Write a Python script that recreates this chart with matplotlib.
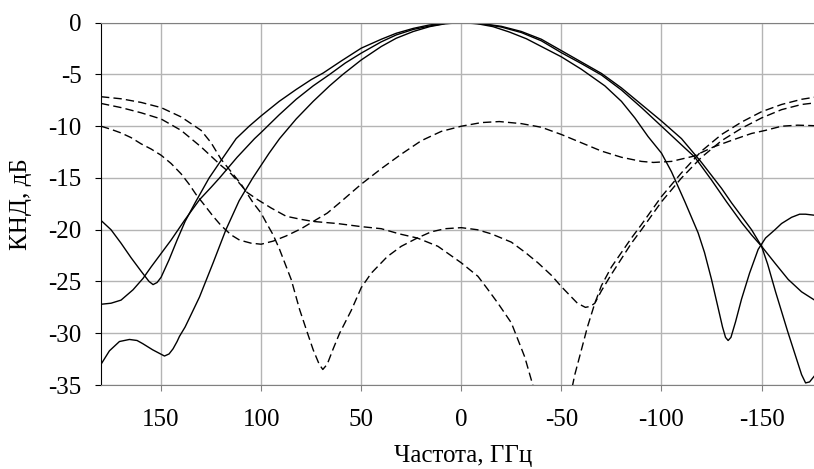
import matplotlib
matplotlib.use("Agg")
import matplotlib.pyplot as plt
import numpy as np

plt.rcParams['font.family'] = ['Liberation Serif', 'DejaVu Serif']
plt.rcParams['axes.unicode_minus'] = False

# сплошные кривые (x - частота, ГГц; y - КНД, дБ)
a_x = [180, 175, 170, 165, 160, 156, 154, 152, 150, 146, 142, 138, 133, 126, 120, 112.5, 106, 100,
       91, 82.5, 75, 69, 60, 50, 40, 32.5, 24, 16, 8, 0,
       -10, -20, -30, -40, -50, -60, -70, -80, -90, -100, -110, -120, -130, -135, -140, -145,
       -150, -153, -157, -160, -163, -167, -170, -172, -174, -176.5]
a_y = [-19.1, -20.0, -21.3, -22.7, -24.0, -25.0, -25.3, -25.1, -24.6, -22.9, -21.0, -19.2, -17.4, -15.0, -13.3, -11.2, -10.0, -9.0,
       -7.6, -6.45, -5.5, -4.86, -3.7, -2.46, -1.6, -1.02, -0.55, -0.22, -0.05, 0.0,
       -0.08, -0.35, -0.85, -1.6, -2.7, -3.8, -4.9, -6.3, -7.9, -9.5, -11.2, -13.5, -16.0, -17.4, -18.7, -20.0,
       -21.6, -23.3, -26.0, -27.9, -29.8, -32.2, -34.0, -34.8, -34.7, -34.1]

b_x = [180, 175, 170, 164, 159, 155, 150, 145, 138.3, 130.8, 125, 120.8, 112, 103.3, 100, 91, 82.5,
       74, 65.8, 58, 50, 40, 32.5, 24, 15.8, 8, 0,
       -10, -20, -30, -40, -50, -60, -70, -80, -90, -100, -110, -116.7, -125, -132.5, -140, -145,
       -150, -157, -163.3, -170, -176.5]
b_y = [-27.2, -27.1, -26.8, -25.8, -24.7, -23.6, -22.3, -21.0, -19.1, -17.1, -15.9, -15.0, -13.0, -11.2, -10.6, -8.9, -7.4,
       -6.1, -5.0, -3.9, -2.94, -1.85, -1.18, -0.65, -0.32, -0.08, 0.0,
       -0.1, -0.42, -0.95, -1.75, -2.9, -3.95, -5.05, -6.5, -8.2, -10.0, -11.8, -13.0, -15.2, -17.3, -19.3, -20.5,
       -21.6, -23.3, -24.8, -26.0, -26.8]

c_x = [180, 175.8, 170.8, 165.8, 162, 159.2, 154.2, 148.3, 146, 144, 142, 140.8, 138, 136, 130.8, 124,
       117.6, 111, 104.2, 96, 90.8, 82.5, 74, 65.8, 59.2, 50, 40, 32.5, 24, 15.8, 8, 0,
       -8, -15.8, -24, -32.5, -40, -50, -60, -71.7, -80, -86.7, -93.3, -100, -105, -111.7, -115, -118.3,
       -121.5, -125, -128, -130.5, -132, -133.3, -134.7, -137, -140, -144, -148.3, -152, -156.7, -160, -165,
       -169, -172, -176.5]
c_y = [-33.0, -31.7, -30.8, -30.6, -30.7, -31.0, -31.6, -32.2, -32.0, -31.5, -30.8, -30.3, -29.4, -28.6, -26.5, -23.2,
       -20.0, -17.2, -15.0, -12.6, -11.2, -9.3, -7.6, -6.1, -5.0, -3.6, -2.3, -1.5, -0.85, -0.38, -0.1, 0.0,
       -0.1, -0.38, -0.9, -1.55, -2.3, -3.3, -4.5, -6.1, -7.6, -9.2, -11.0, -12.6, -14.4, -17.3, -18.8, -20.3,
       -22.2, -24.8, -27.3, -29.4, -30.4, -30.7, -30.4, -28.9, -26.7, -24.2, -21.9, -20.8, -20.0, -19.4, -18.8,
       -18.5, -18.5, -18.6]

# штриховые кривые
d1_x = [180, 170, 160, 150, 140, 130, 125, 120, 115, 110, 104, 100, 97.5, 94, 90.8, 85, 80.8, 77, 74,
        71, 69.2, 67, 64, 60.8, 55, 50, 45, 37, 30, 22, 15, 8, 0,
        -8, -15, -25, -32, -38.3, -45, -50, -55, -58, -62, -64.5, -66.7, -70, -75, -80, -85, -90,
        -100, -110, -120, -130, -140, -150, -160, -170, -176.5]
d1_y = [-7.15, -7.35, -7.7, -8.2, -9.1, -10.4, -11.6, -13.2, -14.4, -15.6, -17.4, -18.4, -19.3, -20.5, -21.9, -24.8, -27.7, -29.9, -31.6,
        -33.0, -33.5, -33.0, -31.5, -30.0, -27.8, -25.6, -24.2, -22.6, -21.6, -20.8, -20.2, -19.9, -19.8,
        -20.0, -20.4, -21.2, -22.2, -23.2, -24.4, -25.5, -26.5, -27.1, -27.5, -27.4, -27.1, -25.9, -24.3, -22.8, -21.3, -20.0,
        -17.3, -15.0, -13.0, -11.4, -10.2, -9.2, -8.4, -7.9, -7.75]

d2_x = [180, 170, 160, 150, 140, 130, 120, 115, 110, 107, 101.7, 95, 87.5, 80, 74, 62, 50, 40, 31, 22,
        11.7, 0, -8.3, -13, -18.3, -25, -31.7, -36, -38,
        -54, -56.7, -60, -63, -66.7, -70, -75, -80, -85, -90, -100, -110, -120, -130, -140, -150,
        -160, -170, -176.5]
d2_y = [-7.8, -8.2, -8.7, -9.3, -10.4, -12.0, -13.8, -14.6, -15.7, -16.4, -17.1, -17.9, -18.7, -19.0, -19.2, -19.4, -19.7, -19.9, -20.4, -20.8,
        -21.6, -23.2, -24.5, -25.7, -27.1, -29.0, -32.3, -35.2, -36.5,
        -36.5, -34.0, -31.6, -29.4, -27.1, -25.4, -23.6, -22.2, -20.8, -19.5, -16.8, -14.5, -12.4, -10.8, -9.6, -8.6,
        -7.9, -7.4, -7.2]

d3_x = [180, 175, 170, 165, 160, 155, 150, 145, 140, 136, 132.5, 128, 124, 120, 115, 110.8, 105, 100,
        94, 87.5, 80, 74, 67, 60.8, 50, 40, 30,
        20, 10, 0, -10, -19, -30, -40, -50, -60, -70, -80, -90, -96, -105, -116, -126, -136, -145,
        -152, -160, -168, -176.5]
d3_y = [-10.0, -10.3, -10.65, -11.1, -11.7, -12.2, -12.8, -13.6, -14.6, -15.6, -16.6, -17.7, -18.7, -19.6, -20.5, -21.0, -21.3, -21.4,
        -21.1, -20.6, -19.9, -19.2, -18.4, -17.4, -15.6, -14.1, -12.7,
        -11.4, -10.5, -10.0, -9.65, -9.55, -9.75, -10.1, -10.8, -11.6, -12.4, -13.0, -13.4, -13.5, -13.4, -12.9, -12.0, -11.3, -10.7,
        -10.4, -10.0, -9.9, -9.95]

fig = plt.figure(figsize=(8.14, 4.69), dpi=100)
ax = fig.add_axes([0.1241, 0.1791, 0.8759, 0.7725])

for xs, ys in [(a_x, a_y), (b_x, b_y), (c_x, c_y)]:
    ax.plot(xs, ys, color='black', lw=1.0)
for xs, ys in [(d1_x, d1_y), (d2_x, d2_y), (d3_x, d3_y)]:
    ax.plot(xs, ys, color='black', lw=1.0, dashes=(6, 3))

ax.set_xlim(180, -176.2)
ax.set_ylim(-35, 0)
ax.set_xticks([150, 100, 50, 0, -50, -100, -150])
ax.set_yticks([0, -5, -10, -15, -20, -25, -30, -35])
ax.grid(True, color='#b4b4b4', lw=1.0)
ax.set_axisbelow(True)

ax.spines['right'].set_visible(False)
ax.spines['top'].set_color('#808080')
ax.spines['bottom'].set_color('#808080')
ax.spines['left'].set_color('black')
ax.tick_params(axis='y', direction='out', length=4, pad=10, labelsize=18, color='black')
ax.tick_params(axis='x', direction='out', length=4, pad=13, labelsize=18, color='#808080')

ax.set_ylabel('КНД, дБ', fontsize=18)
ax.set_xlabel('Частота, ГГц', fontsize=18)
ax.yaxis.set_label_coords(-0.097, 0.5)
ax.xaxis.set_label_coords(0.508, -0.165)

plt.savefig('out.png', dpi=100)
